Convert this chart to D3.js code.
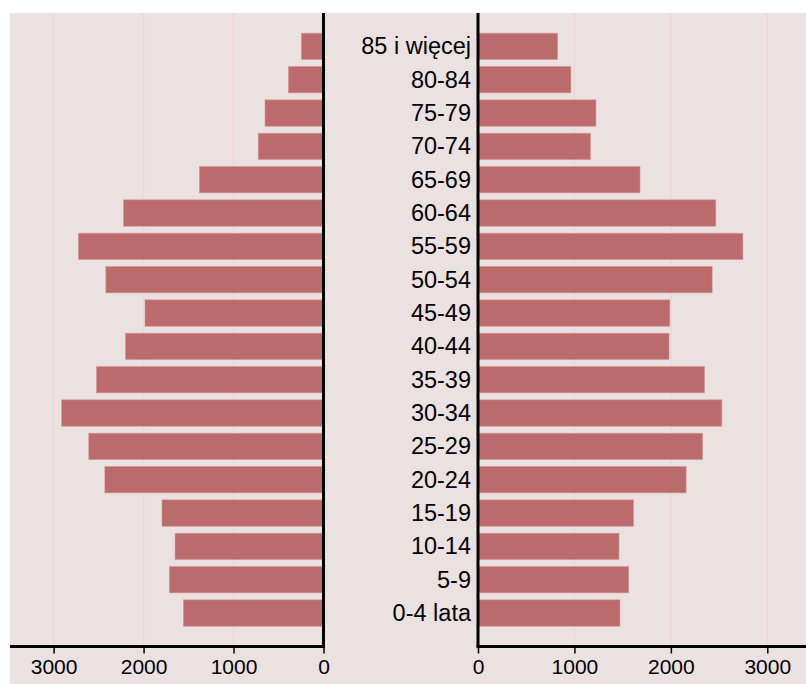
<!DOCTYPE html>
<html>
<head>
<meta charset="utf-8">
<script src="https://cdn.jsdelivr.net/npm/d3@7"></script>
<style>
  html, body { margin: 0; padding: 0; background: #ffffff; }
  svg { display: block; }
</style>
</head>
<body>
<svg id="chart" width="806" height="684"></svg>
<script>
const categories = ["85 i więcej","80-84","75-79","70-74","65-69","60-64","55-59","50-54","45-49","40-44","35-39","30-34","25-29","20-24","15-19","10-14","5-9","0-4 lata"];
const leftValues  = [245, 390, 650, 725, 1378, 2222, 2724, 2419, 1984, 2200, 2523, 2910, 2609, 2430, 1795, 1650, 1712, 1556];
const rightValues = [825, 963, 1223, 1165, 1680, 2466, 2747, 2428, 1989, 1981, 2349, 2529, 2328, 2158, 1612, 1462, 1563, 1472];
const tickValues = [0, 1000, 2000, 3000];

const W = 806, H = 684;
const svg = d3.select("#chart");
const bg = "#ebe1e1", barColor = "#bb6b6b", gridColor = "#f1d3da";
const font = "'Liberation Sans', Arial, sans-serif";

const panelTop = 13, axisY = 646.5;
const leftZero = 323.5, rightZero = 478;

svg.append("rect").attr("x", 10).attr("y", panelTop).attr("width", W - 10).attr("height", H - panelTop).attr("fill", bg);

const xL = d3.scaleLinear().domain([0, 3000]).range([leftZero, 53.6]);
const xR = d3.scaleLinear().domain([0, 3000]).range([rightZero, 767.3]);
const y = d3.scaleBand().domain(categories).range([29.7, 629.7]).paddingInner(0.21).paddingOuter(0.105);

// gridlines
[xL, xR].forEach(sc => {
  svg.append("g").selectAll("line").data(tickValues.filter(d => d > 0)).join("line")
    .attr("x1", d => sc(d)).attr("x2", d => sc(d))
    .attr("y1", panelTop).attr("y2", axisY)
    .attr("stroke", gridColor).attr("stroke-width", 1.5);
});

// bars
svg.append("g").selectAll("rect").data(categories).join("rect")
  .attr("x", (d, i) => xL(leftValues[i]))
  .attr("y", d => y(d))
  .attr("width", (d, i) => leftZero - xL(leftValues[i]))
  .attr("height", y.bandwidth())
  .attr("fill", barColor)
  .attr("stroke", "#cf9595").attr("stroke-width", 0.6);

svg.append("g").selectAll("rect").data(categories).join("rect")
  .attr("x", rightZero)
  .attr("y", d => y(d))
  .attr("width", (d, i) => xR(rightValues[i]) - rightZero)
  .attr("height", y.bandwidth())
  .attr("fill", barColor)
  .attr("stroke", "#cf9595").attr("stroke-width", 0.6);

// category labels
svg.append("g").selectAll("text").data(categories).join("text")
  .attr("x", 471)
  .attr("y", d => y(d) + y.bandwidth() / 2)
  .attr("dy", "0.34em")
  .attr("text-anchor", "end")
  .attr("font-family", font)
  .attr("font-size", 23.5)
  .attr("fill", "#000")
  .text(d => d);

// axes
const axL = svg.append("g").attr("transform", `translate(0,${axisY})`)
  .call(d3.axisBottom(xL).tickValues(tickValues).tickFormat(d3.format("d")).tickSize(7).tickPadding(6));
const axR = svg.append("g").attr("transform", `translate(0,${axisY})`)
  .call(d3.axisBottom(xR).tickValues(tickValues).tickFormat(d3.format("d")).tickSize(7).tickPadding(6));
[axL, axR].forEach(ax => {
  ax.select(".domain").remove();
  ax.selectAll(".tick line").attr("stroke", "#000").attr("stroke-width", 1.5);
  ax.selectAll(".tick text").attr("font-family", font).attr("font-size", 21).attr("fill", "#000");
});

// axis lines
svg.append("line").attr("x1", 10).attr("x2", leftZero + 1.5).attr("y1", axisY).attr("y2", axisY).attr("stroke", "#000").attr("stroke-width", 3);
svg.append("line").attr("x1", rightZero - 1.5).attr("x2", W).attr("y1", axisY).attr("y2", axisY).attr("stroke", "#000").attr("stroke-width", 3);
svg.append("line").attr("x1", leftZero).attr("x2", leftZero).attr("y1", panelTop).attr("y2", axisY).attr("stroke", "#000").attr("stroke-width", 3);
svg.append("line").attr("x1", rightZero).attr("x2", rightZero).attr("y1", panelTop).attr("y2", axisY).attr("stroke", "#000").attr("stroke-width", 3);
</script>
</body>
</html>
